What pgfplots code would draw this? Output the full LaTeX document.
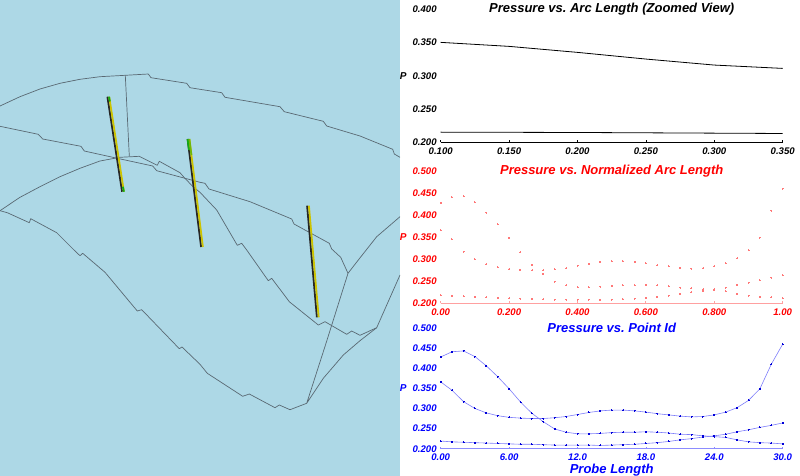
\documentclass[border=0pt]{standalone}
\usepackage{pgfplots}
\usepackage{pgfplotstable}
\usepackage{fontspec}
\setmainfont{Liberation Sans}
\pgfplotsset{compat=1.18}
\definecolor{panel}{RGB}{173,216,230}
\definecolor{wire}{RGB}{90,105,115}
\definecolor{probey}{RGB}{205,195,0}
\definecolor{probeg}{RGB}{20,170,20}
\definecolor{bline}{RGB}{125,125,250}
\definecolor{rpt}{RGB}{255,120,120}
\definecolor{raxis}{RGB}{255,160,160}
\definecolor{baxis}{RGB}{140,140,255}
\pgfplotstableread{
id n a b c
0 0.000 0.428 0.366 0.219
1 0.033 0.441 0.345 0.217
2 0.067 0.443 0.317 0.216
3 0.100 0.429 0.300 0.215
4 0.133 0.406 0.289 0.214
5 0.167 0.379 0.282 0.213
6 0.200 0.349 0.278 0.212
7 0.233 0.316 0.276 0.211
8 0.267 0.288 0.275 0.211
9 0.300 0.267 0.275 0.210
10 0.333 0.249 0.277 0.209
11 0.367 0.241 0.280 0.209
12 0.400 0.237 0.285 0.209
13 0.433 0.237 0.290 0.209
14 0.467 0.238 0.294 0.208
15 0.500 0.240 0.296 0.209
16 0.533 0.241 0.296 0.210
17 0.567 0.241 0.294 0.211
18 0.600 0.242 0.291 0.213
19 0.633 0.241 0.287 0.215
20 0.667 0.239 0.284 0.218
21 0.700 0.236 0.281 0.222
22 0.733 0.235 0.279 0.225
23 0.767 0.232 0.280 0.229
24 0.800 0.230 0.284 0.232
25 0.833 0.228 0.291 0.236
26 0.867 0.222 0.302 0.242
27 0.900 0.217 0.320 0.247
28 0.933 0.215 0.349 0.253
29 0.967 0.214 0.410 0.258
30 1.000 0.212 0.460 0.264
}\probe
\pgfplotsset{
 wr/.style={wire,line width=0.7pt,line join=round,no markers},
 pr/.style={#1,line width=1.8pt,line cap=butt,no markers},
 bl/.style={bline,line width=0.6pt,mark=*,mark size=0.5pt,mark options={solid,draw=blue!85!black,fill=blue!85!black,line width=0pt}},
 rd/.style={rpt,only marks,mark=*,mark size=0.5pt,mark options={solid,draw=rpt,fill=rpt,line width=0pt}},
 every axis title shift=0pt,
 chart/.style={
  scale only axis, width=342pt,
  axis x line=bottom, axis y line=left,
  y axis line style={draw=none,-},
  major tick length=2pt, tick align=inside,
  ytick style={draw=none},
  title style={at={(axis description cs:0.5,1)},anchor=center,
    font=\bfseries\itshape\fontsize{13}{15}\selectfont},
  ylabel style={rotate=-90,at={(axis description cs:-0.11,0.5)},anchor=center,
    font=\bfseries\itshape\fontsize{10}{12}\selectfont},
  ylabel={P},
  tick label style={font=\bfseries\itshape\fontsize{9.6}{11}\selectfont},
  xticklabel style={yshift=-1.5pt},
  yticklabel style={xshift=-0.5pt},
  clip=false,
 },
}
\begin{document}
\begin{tikzpicture}[x=1pt,y=1pt]
\useasboundingbox (0,0) rectangle (800,476);
\fill[panel] (0,0) rectangle (400,476);
\begin{axis}[at={(0pt,0pt)},anchor=south west,scale only axis,width=400pt,height=476pt,
  xmin=0,xmax=400,ymin=0,ymax=476,y dir=reverse,hide axis,clip=true]
\addplot[wr] coordinates {(0,106)(20,96.7)(40,89)(60,83.3)(80,79.3)(100,76.7)(125.3,75.3)(148.3,74)(151,77.7)(186.7,83.3)(190,87.7)(200,89.3)(221.7,92.7)(225,97.3)(280,106.7)(284.3,111.7)(323.3,121.3)(326.7,126)(360,136)(392.7,149.3)(394.3,154)(400,157.3)};
\addplot[wr] coordinates {(0,126.3)(38.3,134.3)(42.7,139)(81,146.3)(84.3,151)(117.3,158.3)(152.7,166)(156.7,170.7)(200,182.3)(205,183.3)(209,189)(250,201.7)(291.7,219)(294,224)(329.3,243.3)(331.7,249)(340.7,257.3)(348,273.3)};
\addplot[wr] coordinates {(400,216.7)(376.7,236.7)(358.3,260)(348,273.3)(326,343.3)(306.7,403.3)(323.3,378.3)(343.3,355)(360,340.7)(376.7,327.7)(400,275)};
\addplot[wr] coordinates {(0,210.7)(20,197.3)(40,186.7)(60,176.7)(80,168.3)(100,161)(120,157.3)(139.3,156.3)(157.3,165.3)(159.3,161.3)(180,172.7)(184,177.3)(193.3,187)(200,192.3)(216.7,210)(237.3,245.3)(241.7,243.3)(246.7,250)(268.3,280.7)(271.7,278.3)(289.3,301.7)(318.3,325)(325,321.7)(346.7,334.3)(351.7,331)(360,335.3)(376.7,327.7)};
\addplot[wr] coordinates {(0,210.7)(7.3,212.7)(29.3,222.7)(30.7,218.7)(56.7,232.7)(74,250)(80,255.7)(82.7,253.3)(105,272.3)(137.3,311)(141.7,309.7)(179.3,348.7)(182,347)(200,364.3)(207.3,373.3)(242.7,396.3)(249.3,394)(275,407.7)(279.3,405)(290,409.7)(306.7,403.3)};
\addplot[wr] coordinates {(125.3,75.3)(129.3,156)};
% probe 1
\addplot[pr=black!85] coordinates {(107.4,96.7)(122.1,191.7)};
\addplot[pr=probey] coordinates {(109.2,96.7)(123.9,191.7)};
\addplot[pr=probeg] coordinates {(109.0,96.7)(109.8,101.5)};
\addplot[pr=probeg] coordinates {(122.9,186.7)(123.9,191.7)};
% probe 2
\addplot[pr=black!85] coordinates {(187.6,139)(201.1,247)};
\addplot[pr=probey] coordinates {(189.4,139)(202.9,247)};
\addplot[pr=probeg] coordinates {(187.6,139)(189,150)};
\addplot[pr=probeg!50!probey] coordinates {(189.4,139)(191.4,155)};
% probe 3
\addplot[pr=black!85] coordinates {(307.1,205.7)(316.9,317.3)};
\addplot[pr=probey] coordinates {(308.9,205.7)(318.7,317.3)};
\end{axis}

\begin{axis}[chart,at={(440.7pt,333.5pt)},anchor=south west,height=133.5pt,
  x axis line style={draw=black,line width=0.8pt,-},xtick style={black,line width=0.6pt},
  xmin=0.1,xmax=0.35,ymin=0.2,ymax=0.4,
  xtick={0.1,0.15,0.2,0.25,0.3,0.35},xticklabels={0.100,0.150,0.200,0.250,0.300,0.350},
  ytick={0.2,0.25,0.3,0.35,0.4},yticklabels={0.200,0.250,0.300,0.350,0.400},
  title={Pressure vs.\ Arc Length (Zoomed View)}]
\addplot[black,line width=0.8pt] coordinates {(0.1,0.350)(0.15,0.344)(0.2,0.335)(0.25,0.325)(0.3,0.316)(0.35,0.311)};
\addplot[black,line width=0.8pt] coordinates {(0.1,0.2155)(0.2,0.2150)(0.3,0.214)(0.35,0.2135)};
\end{axis}

\begin{axis}[chart,at={(440.7pt,172.5pt)},anchor=south west,height=132.5pt,
  x axis line style={draw=raxis,line width=1.2pt,-},xtick style={raxis,line width=1pt},
  every tick label/.append style={red},title style={red},ylabel style={red},
  xmin=0,xmax=1,ymin=0.2,ymax=0.5,
  xtick={0,0.2,0.4,0.6,0.8,1},xticklabels={0.00,0.200,0.400,0.600,0.800,1.00},
  ytick={0.2,0.25,0.3,0.35,0.4,0.45,0.5},yticklabels={0.200,0.250,0.300,0.350,0.400,0.450,0.500},
  title={Pressure vs.\ Normalized Arc Length}]
\addplot[rd] table[x=n,y=a] {\probe};
\addplot[rd] table[x=n,y=b] {\probe};
\addplot[rd] table[x=n,y=c] {\probe};
\end{axis}

\begin{axis}[chart,at={(440.7pt,27.3pt)},anchor=south west,height=120.7pt,
  x axis line style={draw=baxis,line width=1pt,-},xtick style={baxis,line width=0.8pt},
  every tick label/.append style={blue},title style={blue},ylabel style={blue},
  xlabel={Probe Length},
  xlabel style={blue,at={(axis description cs:0.5,-0.176)},anchor=center,font=\bfseries\itshape\fontsize{13}{15}\selectfont},
  xmin=0,xmax=30,ymin=0.2,ymax=0.5,
  xtick={0,6,12,18,24,30},xticklabels={0.00,6.00,12.0,18.0,24.0,30.0},
  ytick={0.2,0.25,0.3,0.35,0.4,0.45,0.5},yticklabels={0.200,0.250,0.300,0.350,0.400,0.450,0.500},
  title={Pressure vs.\ Point Id}]
\addplot[bl] table[x=id,y=a] {\probe};
\addplot[bl] table[x=id,y=b] {\probe};
\addplot[bl] table[x=id,y=c] {\probe};
\end{axis}
\end{tikzpicture}
\end{document}
